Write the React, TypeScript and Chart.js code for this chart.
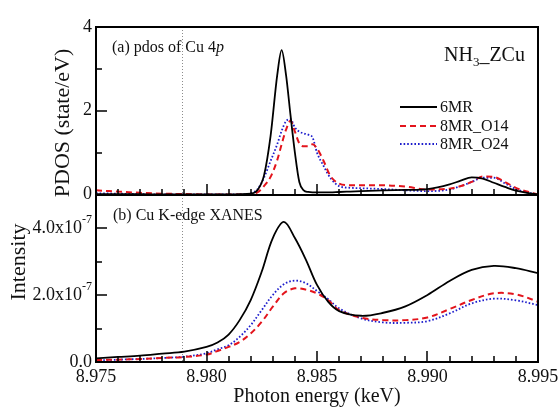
import React, { useEffect, useRef } from 'react';
import { Chart, registerables } from 'chart.js';

Chart.register(...registerables);

// ---------- data ----------
const SERIES_NAMES = ['6MR', '8MR_O14', '8MR_O24'];

const ENERGY_TOP = [8.975, 8.976, 8.977, 8.978, 8.979, 8.98, 8.981, 8.9815, 8.982, 8.9823, 8.9826, 8.9829, 8.9832, 8.9834, 8.9836, 8.9838, 8.984, 8.9842, 8.9844, 8.9846, 8.9848, 8.985, 8.9853, 8.9856, 8.986, 8.9865, 8.987, 8.988, 8.989, 8.99, 8.991, 8.9915, 8.992, 8.9925, 8.993, 8.9935, 8.994, 8.9945, 8.995];
const PDOS_6MR = [0.01, 0.01, 0.01, 0.0, 0.0, 0.0, 0.0, 0.01, 0.02, 0.1, 0.45, 1.4, 2.85, 3.45, 2.85, 1.9, 1.0, 0.3, 0.1, 0.06, 0.05, 0.05, 0.05, 0.05, 0.06, 0.07, 0.08, 0.1, 0.11, 0.13, 0.24, 0.33, 0.41, 0.38, 0.28, 0.18, 0.09, 0.04, 0.0];
const PDOS_8MR_O14 = [0.1, 0.07, 0.04, 0.02, 0.01, 0.0, 0.0, 0.0, 0.01, 0.05, 0.2, 0.42, 0.82, 1.2, 1.55, 1.76, 1.5, 1.22, 1.15, 1.15, 1.2, 1.1, 0.8, 0.45, 0.26, 0.22, 0.22, 0.22, 0.19, 0.12, 0.14, 0.2, 0.3, 0.43, 0.42, 0.3, 0.16, 0.07, 0.0];
const PDOS_8MR_O24 = [0.03, 0.02, 0.01, 0.0, 0.0, 0.0, 0.0, 0.0, 0.03, 0.12, 0.4, 0.8, 1.2, 1.52, 1.75, 1.8, 1.6, 1.5, 1.46, 1.43, 1.36, 1.0, 0.68, 0.4, 0.2, 0.16, 0.15, 0.13, 0.1, 0.08, 0.12, 0.2, 0.3, 0.4, 0.4, 0.27, 0.13, 0.05, 0.0];

const ENERGY_BOT = [8.975, 8.976, 8.977, 8.978, 8.979, 8.98, 8.9805, 8.981, 8.9815, 8.982, 8.9825, 8.983, 8.9835, 8.984, 8.9845, 8.985, 8.9855, 8.986, 8.987, 8.988, 8.989, 8.99, 8.991, 8.992, 8.993, 8.994, 8.995];
// intensities in units of 1e-7
const XANES_6MR = [0.11, 0.15, 0.19, 0.25, 0.31, 0.45, 0.58, 0.82, 1.25, 1.85, 2.7, 3.7, 4.18, 3.7, 3.05, 2.3, 1.8, 1.52, 1.38, 1.47, 1.66, 2.0, 2.42, 2.75, 2.87, 2.8, 2.65];
const XANES_8MR_O14 = [0.06, 0.07, 0.09, 0.12, 0.15, 0.22, 0.33, 0.45, 0.6, 0.85, 1.2, 1.65, 2.05, 2.2, 2.16, 2.05, 1.85, 1.55, 1.32, 1.25, 1.25, 1.33, 1.58, 1.85, 2.05, 2.02, 1.8];
const XANES_8MR_O24 = [0.05, 0.07, 0.09, 0.12, 0.16, 0.26, 0.38, 0.5, 0.75, 1.1, 1.55, 2.0, 2.32, 2.43, 2.35, 2.12, 1.88, 1.6, 1.3, 1.18, 1.17, 1.22, 1.45, 1.75, 1.89, 1.84, 1.7];
const XANES_UNIT = 1e-7;

const X_MIN = 8.975;
const X_MAX = 8.995;
const X_TICKS = [8.975, 8.98, 8.985, 8.99, 8.995];
const X_TICK_LABELS = ['8.975', '8.980', '8.985', '8.990', '8.995'];
const PDOS_TICKS = [0, 2, 4];
const PDOS_TICK_LABELS = ['0', '2', '4'];
const PDOS_MINOR = [1, 3];
const INT_TICKS = [0, 2e-7, 4e-7];
const INT_TICK_MAIN = ['0.0', '2.0x10', '4.0x10'];
const INT_TICK_SUP = ['', '-7', '-7'];
const INT_MINOR = [1e-7, 3e-7];
const MARKER_ENERGY = 8.9789;

const COLORS = ['#000000', '#e3141c', '#1c1ccc'];
const DASHES = [[], [6, 4], [1.6, 2]];
const WIDTHS = [1.8, 2, 1.8];

const FONT = "'Liberation Serif', 'Times New Roman', serif";
const AXIS_COLOR = '#000000';

function zip(xs: number[], ys: number[], k = 1) {
  return xs.map((x, i) => ({ x, y: ys[i] * k }));
}

const decorPlugin = {
  id: 'decor',
  beforeDatasetsDraw(chart: any) {
    const { ctx, chartArea: a, scales } = chart;
    const px = Math.round(scales.x.getPixelForValue(MARKER_ENERGY));
    ctx.save();
    ctx.fillStyle = '#8c8c8c';
    for (let y = Math.round(a.top); y < a.bottom; y += 3) {
      ctx.fillRect(px, y, 1, 1);
    }
    ctx.restore();
  },
  afterDraw(chart: any) {
    const { ctx, chartArea: a, scales } = chart;
    const xs = scales.x;
    const yT = scales.yTop;
    const yB = scales.yBot;
    const L = Math.round(a.left);
    const R = Math.round(a.right);
    const T = Math.round(a.top);
    const B = Math.round(a.bottom);
    const M = Math.round(yT.bottom);
    ctx.save();
    ctx.setLineDash([]);
    ctx.strokeStyle = AXIS_COLOR;
    ctx.lineWidth = 2;
    ctx.lineCap = 'square';
    // frame
    ctx.beginPath();
    ctx.rect(L, T, R - L, B - T);
    ctx.moveTo(L, M);
    ctx.lineTo(R, M);
    ctx.stroke();

    // inner ticks
    ctx.lineWidth = 1.5;
    ctx.lineCap = 'butt';
    ctx.beginPath();
    const yTick = (scale: any, vals: number[], len: number) => {
      vals.forEach((v) => {
        const py = Math.round(scale.getPixelForValue(v));
        ctx.moveTo(L, py);
        ctx.lineTo(L + len, py);
      });
    };
    yTick(yT, PDOS_TICKS, 11);
    yTick(yT, PDOS_MINOR, 6);
    yTick(yB, INT_TICKS, 11);
    yTick(yB, INT_MINOR, 6);
    [M, B].forEach((base: number) => {
      for (let i = 0; i <= 20; i++) {
        const v = X_MIN + (i * (X_MAX - X_MIN)) / 20;
        const pxl = Math.round(xs.getPixelForValue(v));
        const len = i % 5 === 0 ? 11 : 6;
        ctx.moveTo(pxl, base);
        ctx.lineTo(pxl, base - len);
      }
    });
    ctx.stroke();

    ctx.fillStyle = '#111';
    // bottom panel tick labels with superscripts
    ctx.textAlign = 'right';
    ctx.textBaseline = 'middle';
    INT_TICKS.forEach((v, i) => {
      const py = yB.getPixelForValue(v);
      const right = a.left - 4;
      let sw = 0;
      if (INT_TICK_SUP[i]) {
        ctx.font = `12px ${FONT}`;
        sw = ctx.measureText(INT_TICK_SUP[i]).width;
        ctx.fillText(INT_TICK_SUP[i], right, py - 8);
      }
      ctx.font = `18px ${FONT}`;
      ctx.fillText(INT_TICK_MAIN[i], right - sw, py);
    });

    // panel labels
    ctx.textAlign = 'left';
    ctx.textBaseline = 'middle';
    ctx.font = `16px ${FONT}`;
    const la = '(a) pdos of Cu 4';
    ctx.fillText(la, a.left + 16, a.top + 21);
    const wla = ctx.measureText(la).width;
    ctx.font = `italic 16px ${FONT}`;
    ctx.fillText('p', a.left + 16 + wla, a.top + 21);
    ctx.font = `16px ${FONT}`;
    ctx.fillText('(b) Cu K-edge XANES', a.left + 17, yB.top + 21);

    // NH3_ZCu
    ctx.textBaseline = 'alphabetic';
    ctx.font = `20px ${FONT}`;
    const tx = 444;
    const ty = 61;
    ctx.fillText('NH', tx, ty);
    const w1 = ctx.measureText('NH').width;
    ctx.font = `13px ${FONT}`;
    ctx.fillText('3', tx + w1, ty + 5);
    const w2 = ctx.measureText('3').width;
    ctx.font = `20px ${FONT}`;
    ctx.fillText('_ZCu', tx + w1 + w2, ty);

    // legend
    const lx0 = 400;
    const lx1 = 437;
    const ly = [107, 126, 144];
    SERIES_NAMES.forEach((name, i) => {
      ctx.save();
      ctx.strokeStyle = COLORS[i];
      ctx.lineWidth = WIDTHS[i];
      ctx.setLineDash(DASHES[i]);
      ctx.beginPath();
      ctx.moveTo(lx0, ly[i]);
      ctx.lineTo(lx1, ly[i]);
      ctx.stroke();
      ctx.restore();
      ctx.font = `16px ${FONT}`;
      ctx.textBaseline = 'middle';
      ctx.textAlign = 'left';
      ctx.fillStyle = '#111';
      ctx.fillText(name, 440, ly[i] + 1);
    });

    // axis titles
    ctx.textAlign = 'center';
    ctx.textBaseline = 'middle';
    ctx.font = `22px ${FONT}`;
    ctx.save();
    ctx.translate(63, 123);
    ctx.rotate(-Math.PI / 2);
    ctx.fillText('PDOS (state/eV)', 0, 0);
    ctx.restore();
    ctx.save();
    ctx.translate(19, 262);
    ctx.rotate(-Math.PI / 2);
    ctx.fillText('Intensity', 0, 0);
    ctx.restore();
    ctx.font = `20px ${FONT}`;
    ctx.fillText('Photon energy (keV)', (a.left + a.right) / 2, 397);
    ctx.restore();
  },
};

export default function App() {
  const ref = useRef<HTMLCanvasElement | null>(null);
  useEffect(() => {
    if (!ref.current) return;
    const datasets: any[] = [];
    const top = [PDOS_6MR, PDOS_8MR_O14, PDOS_8MR_O24];
    const bot = [XANES_6MR, XANES_8MR_O14, XANES_8MR_O24];
    SERIES_NAMES.forEach((name, i) => {
      datasets.push({
        label: name,
        data: zip(ENERGY_TOP, top[i]),
        yAxisID: 'yTop',
        borderColor: COLORS[i],
        borderWidth: WIDTHS[i],
        borderDash: DASHES[i],
        pointRadius: 0,
        fill: false,
        cubicInterpolationMode: 'monotone',
      });
    });
    SERIES_NAMES.forEach((name, i) => {
      datasets.push({
        label: name + ' XANES',
        data: zip(ENERGY_BOT, bot[i], XANES_UNIT),
        yAxisID: 'yBot',
        borderColor: COLORS[i],
        borderWidth: WIDTHS[i],
        borderDash: DASHES[i],
        pointRadius: 0,
        fill: false,
        tension: 0.35,
      });
    });
    const tickFont = { family: FONT, size: 18 };
    const border = { display: true, color: AXIS_COLOR, width: 2 };
    const chart = new Chart(ref.current, {
      type: 'line',
      data: { datasets },
      options: {
        animation: false,
        responsive: false,
        devicePixelRatio: 1,
        layout: { padding: { top: 27, right: 22, left: 0, bottom: 0 } },
        plugins: { legend: { display: false }, tooltip: { enabled: false }, title: { display: false } },
        scales: {
          x: {
            type: 'linear',
            min: X_MIN,
            max: X_MAX,
            afterBuildTicks: (s: any) => {
              s.ticks = X_TICKS.map((v) => ({ value: v }));
            },
            afterFit: (s: any) => {
              s.height = 45;
              s.paddingLeft = 0;
              s.paddingRight = 0;
            },
            ticks: {
              autoSkip: false,
              maxRotation: 0,
              padding: 4,
              color: '#111',
              font: tickFont,
              callback: (_v: any, i: number) => X_TICK_LABELS[i],
            },
            grid: { display: false, drawTicks: false },
            border,
          },
          yBot: {
            type: 'linear',
            position: 'left',
            stack: 'panels',
            stackWeight: 1,
            min: 0,
            max: 5e-7,
            afterBuildTicks: (s: any) => {
              s.ticks = INT_TICKS.map((v) => ({ value: v }));
            },
            afterFit: (s: any) => {
              s.width = 96;
            },
            ticks: { display: false },
            grid: { display: false, drawTicks: false },
            border,
          },
          yTop: {
            type: 'linear',
            position: 'left',
            stack: 'panels',
            stackWeight: 1,
            min: 0,
            max: 4,
            afterBuildTicks: (s: any) => {
              s.ticks = PDOS_TICKS.map((v) => ({ value: v }));
            },
            afterFit: (s: any) => {
              s.width = 96;
            },
            ticks: {
              padding: 4,
              color: '#111',
              font: tickFont,
              callback: (_v: any, i: number) => PDOS_TICK_LABELS[i],
            },
            grid: { display: false, drawTicks: false },
            border,
          },
        },
      } as any,
      plugins: [decorPlugin],
    });
    return () => chart.destroy();
  }, []);
  return (
    <div style={{ position: 'fixed', left: 0, top: 0, width: 560, height: 407, background: '#fff' }}>
      <canvas ref={ref} width={560} height={407} style={{ display: 'block' }} />
    </div>
  );
}
